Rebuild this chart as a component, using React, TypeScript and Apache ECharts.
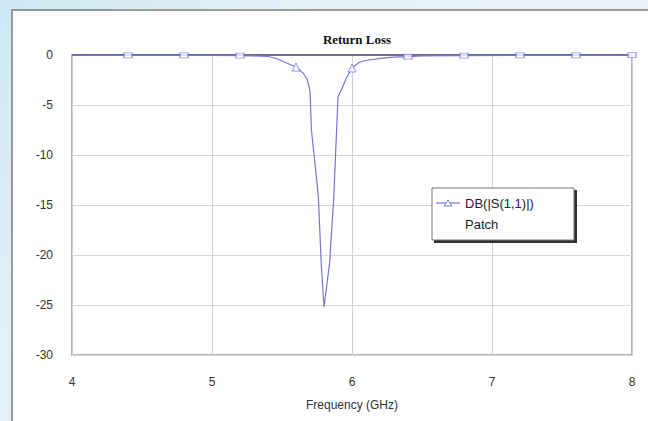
import React, { useEffect, useRef } from "react";
import * as echarts from "echarts";

const freqGHz = [4.0, 4.4, 4.8, 5.0, 5.2, 5.3, 5.4, 5.45, 5.5, 5.55, 5.6, 5.65, 5.68, 5.7, 5.705, 5.71, 5.735, 5.76, 5.78, 5.8, 5.82, 5.84, 5.855, 5.87, 5.88, 5.89, 5.9, 5.93, 5.96, 6.0, 6.05, 6.1, 6.2, 6.3, 6.4, 6.5, 6.8, 7.2, 7.6, 8.0];
const s11dB = [-0.02, -0.03, -0.04, -0.05, -0.07, -0.1, -0.15, -0.3, -0.6, -0.9, -1.2, -1.8, -2.4, -3.6, -5.5, -7.5, -10.8, -14.2, -20.8, -25.2, -23.0, -20.8, -17.5, -14.2, -10.8, -7.5, -4.2, -3.3, -2.3, -1.3, -0.75, -0.55, -0.33, -0.22, -0.17, -0.1, -0.06, -0.04, -0.03, -0.02];

const markerFreq = [4.4, 4.8, 5.2, 5.6, 6.0, 6.4, 6.8, 7.2, 7.6, 8.0];
const markerVal = [-0.03, -0.04, -0.07, -1.2, -1.3, -0.17, -0.06, -0.04, -0.03, -0.02];
const markerShape = ["rect", "rect", "rect", "triangle", "triangle", "rect", "rect", "rect", "rect", "rect"];

const titleText = "Return Loss";
const xAxisName = "Frequency (GHz)";
const legendLine1 = "DB(|S(1,1)|)";
const legendLine2 = "Patch";

const LINE = "#7676d8";

export default function App() {
  const ref = useRef<HTMLDivElement>(null);
  useEffect(() => {
    if (!ref.current) return;
    const chart = echarts.init(ref.current, null, { renderer: "svg" });
    const lx = 432, ly = 188, lw = 142, lh = 52;
    chart.setOption({
      animation: false,
      backgroundColor: "#fff",
      title: {
        text: titleText,
        left: 352,
        top: 28,
        textAlign: "center",
        textStyle: { fontFamily: "Liberation Serif", fontWeight: "bold", fontSize: 13, color: "#111" },
      },
      grid: { left: 72, top: 55, right: 16, bottom: 66, show: true, borderColor: "#9a9a9a", borderWidth: 1.5, backgroundColor: "#fff" },
      xAxis: {
        type: "value",
        min: 4,
        max: 8,
        interval: 1,
        name: xAxisName,
        nameLocation: "middle",
        nameGap: 44,
        nameTextStyle: { fontFamily: "Liberation Sans", fontSize: 12, color: "#333" },
        axisLine: { show: false },
        axisTick: { show: false },
        axisLabel: { fontFamily: "Liberation Sans", fontSize: 12, color: "#333", margin: 21 },
        splitLine: { show: true, lineStyle: { color: "#cfcfd8", width: 1 } },
      },
      yAxis: {
        type: "value",
        min: -30,
        max: 0,
        interval: 5,
        axisLine: { show: false },
        axisTick: { show: false },
        axisLabel: { fontFamily: "Liberation Sans", fontSize: 12, color: "#333", margin: 19 },
        splitLine: { show: true, lineStyle: { color: "#d6d6dc", width: 1 } },
      },
      series: [
        {
          type: "line",
          data: freqGHz.map((f, i) => [f, s11dB[i]]),
          showSymbol: false,
          symbol: "none",
          lineStyle: { color: LINE, width: 1.2 },
          z: 3,
        },
        {
          type: "scatter",
          data: markerFreq.map((f, i) => ({ value: [f, markerVal[i]], symbol: markerShape[i], symbolSize: markerShape[i] === "rect" ? [8, 5] : [8, 8] })),
          itemStyle: { color: "#fff", borderColor: LINE, borderWidth: 1 },
          z: 4,
        },
      ],
      graphic: [
        {
          type: "rect",
          shape: { x: 0, y: 0, width: 648, height: 10 },
          style: { fill: new echarts.graphic.LinearGradient(0, 0, 1, 0, [
            { offset: 0, color: "#cfe8f3" },
            { offset: 0.5, color: "#e4f2f9" },
            { offset: 1, color: "#e8f3f8" },
          ]) },
          z: -10,
          silent: true,
        },
        {
          type: "rect",
          shape: { x: 0, y: 0, width: 12, height: 421 },
          style: { fill: new echarts.graphic.LinearGradient(0, 0, 0, 1, [
            { offset: 0, color: "#cfe8f3" },
            { offset: 0.5, color: "#dcedf5" },
            { offset: 1, color: "#e6f2f8" },
          ]) },
          z: -10,
          silent: true,
        },
        {
          type: "polyline",
          shape: { points: [[12, 421], [12, 10], [648, 10]] },
          style: { stroke: "#9a9a9a", lineWidth: 2, fill: "none" },
          z: -9,
          silent: true,
        },
        {
          type: "line",
          shape: { x1: 72, y1: 55, x2: 632, y2: 55 },
          style: { stroke: "#55557a", lineWidth: 1.5 },
          z: 2,
        },
        {
          type: "rect",
          shape: { x: lx + 2, y: ly + 2, width: lw + 1, height: lh + 1 },
          style: { fill: "#333" },
          z: 10,
        },
        {
          type: "rect",
          shape: { x: lx, y: ly, width: lw, height: lh },
          style: { fill: "#fff", stroke: "#777", lineWidth: 1 },
          z: 11,
        },
        {
          type: "line",
          shape: { x1: lx + 4, y1: ly + 15, x2: lx + 28, y2: ly + 15 },
          style: { stroke: LINE, lineWidth: 1.2 },
          z: 12,
        },
        {
          type: "polygon",
          shape: { points: [[lx + 12, ly + 18], [lx + 20, ly + 18], [lx + 16, ly + 12]] },
          style: { fill: "#fff", stroke: LINE, lineWidth: 1 },
          z: 12,
        },
        {
          type: "text",
          x: lx + 33,
          y: ly + 15,
          style: { text: legendLine1, fontFamily: "Liberation Sans", fontSize: 13, fill: "#222", verticalAlign: "middle" },
          z: 12,
        },
        {
          type: "text",
          x: lx + 33,
          y: ly + 36,
          style: { text: legendLine2, fontFamily: "Liberation Sans", fontSize: 13, fill: "#222", verticalAlign: "middle" },
          z: 12,
        },
      ],
    });
    return () => chart.dispose();
  }, []);
  return (
    <div ref={ref} style={{ position: "fixed", left: 0, top: 0, width: 648, height: 421 }} />
  );
}
